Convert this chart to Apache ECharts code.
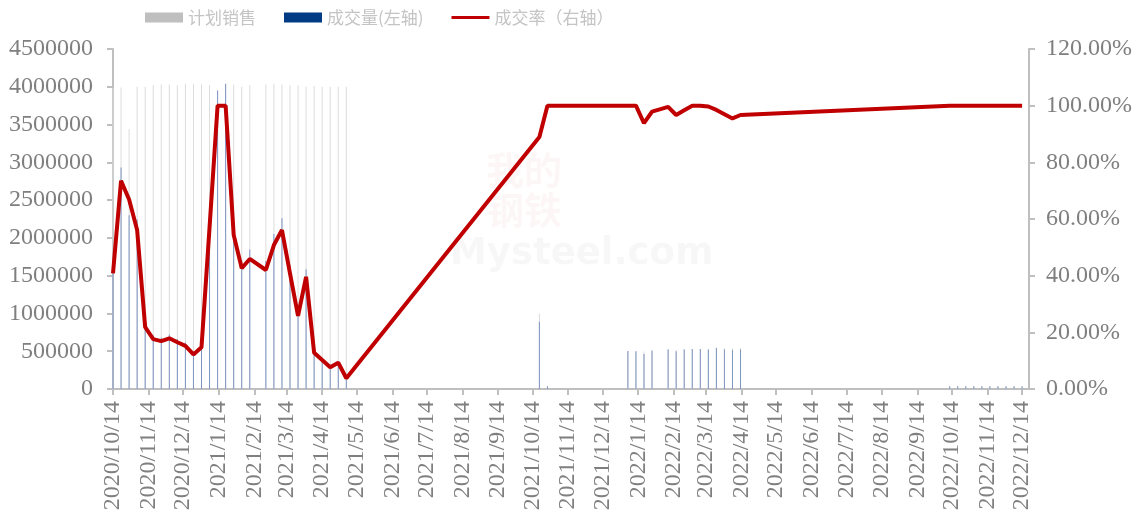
<!DOCTYPE html>
<html><head><meta charset="utf-8">
<script src="https://cdn.jsdelivr.net/npm/echarts@6/dist/echarts.min.js"></script>
<style>html,body{margin:0;padding:0;background:#fff}#c{width:1140px;height:516px}</style>
</head><body><div id="c"></div>
<script>
// weekly observation dates
const dates = [
 '2020-10-14','2020-10-21','2020-10-28','2020-11-04','2020-11-11','2020-11-18','2020-11-25',
 '2020-12-02','2020-12-09','2020-12-16','2020-12-23','2020-12-30','2021-01-06','2021-01-13',
 '2021-01-20','2021-01-27','2021-02-03','2021-02-10','2021-02-24','2021-03-03','2021-03-10',
 '2021-03-17','2021-03-24','2021-03-31','2021-04-07','2021-04-14','2021-04-21','2021-04-28','2021-05-05',
 '2021-10-20','2021-10-27',
 '2022-01-05','2022-01-12','2022-01-19','2022-01-26','2022-02-09','2022-02-16','2022-02-23',
 '2022-03-02','2022-03-09','2022-03-16','2022-03-23','2022-03-30','2022-04-06','2022-04-13',
 '2022-10-12','2022-10-19','2022-10-26','2022-11-02','2022-11-09','2022-11-16','2022-11-23',
 '2022-11-30','2022-12-07','2022-12-14'
];
// 计划销售
const planned = [
 3980000,3990000,3440000,4000000,4000000,4020000,4030000,
 4030000,4020000,4040000,4040000,4030000,4020000,3950000,
 4040000,4030000,4000000,4020000,4030000,4040000,4030000,
 4020000,4020000,4000000,4010000,4000000,4000000,4000000,4000000,
 1000000,35000,
 503000,500000,495000,516000,525000,515000,530000,
 530000,530000,525000,552000,540000,540000,540000,
 35000,35000,35000,35000,35000,35000,35000,
 35000,35000,35000
];
// 成交量(左轴)
const volume = [
 1624000,2933000,2301000,2244000,872000,707500,681000,
 721400,663300,614100,492900,592400,2291000,3950000,
 4040000,2192300,1704000,1845200,1692600,2052300,2260800,
 1640200,1037200,1584000,513300,408000,308000,372000,152000,
 890000,35000,
 503000,500000,464000,505000,523000,498000,521500,
 530000,530000,523400,543700,523800,515700,522200,
 35000,35000,35000,35000,35000,35000,35000,
 35000,35000,35000
];
// 成交率（右轴）
const rate = [
 0.408,0.735,0.669,0.561,0.218,0.176,0.169,
 0.179,0.165,0.152,0.122,0.147,0.570,1.000,
 1.000,0.544,0.426,0.459,0.420,0.508,0.561,
 0.408,0.258,0.396,0.128,0.102,0.077,0.093,0.038,
 0.889,1.000,
 1.000,1.000,0.938,0.979,0.996,0.967,0.984,
 1.000,1.000,0.997,0.985,0.970,0.955,0.967,
 1.000,1.000,1.000,1.000,1.000,1.000,1.000,
 1.000,1.000,1.000
];
// x-axis tick labels
const tickLabels = [
 '2020/10/14','2020/11/14','2020/12/14','2021/1/14','2021/2/14','2021/3/14','2021/4/14',
 '2021/5/14','2021/6/14','2021/7/14','2021/8/14','2021/9/14','2021/10/14','2021/11/14',
 '2021/12/14','2022/1/14','2022/2/14','2022/3/14','2022/4/14','2022/5/14','2022/6/14',
 '2022/7/14','2022/8/14','2022/9/14','2022/10/14','2022/11/14','2022/12/14'
];
const seriesNames = ['计划销售','成交量(左轴)','成交率（右轴）'];

function ts(s){ const p = s.split(/[-\/]/).map(Number); return new Date(p[0], p[1]-1, p[2]).getTime(); }
const tickTs = tickLabels.map(ts);
const fmt = v => { const d = new Date(v); return d.getFullYear()+'/'+(d.getMonth()+1)+'/'+d.getDate(); };

const axisColor = '#bfbfbf';
const labelColor = '#7f7f7f';
const serif = '"Liberation Serif","Times New Roman",serif';

const chart = echarts.init(document.getElementById('c'), null, {renderer:'canvas'});
chart.setOption({
  animation:false,
  backgroundColor:'#ffffff',
  grid:{left:113,right:111,top:49,bottom:127,containLabel:false},
  legend:{
    top:9,left:145,padding:0,itemWidth:38,itemHeight:10,itemGap:28,itemTextGap:6,
    textStyle:{fontSize:17,color:'#c4c4c4',fontFamily:'"Noto Sans CJK SC",sans-serif'},
    data:[
      {name:seriesNames[0],icon:'rect',itemStyle:{color:'#bfbfbf'}},
      {name:seriesNames[1],icon:'rect',itemStyle:{color:'#003b84'}},
      {name:seriesNames[2],icon:'path://M0,0L40,0L40,3.2L0,3.2Z',itemStyle:{color:'#c00000'}}
    ]
  },
  graphic:[
    {type:'text',left:450,top:236,z:0,silent:true,style:{text:'Mysteel.com',fontSize:37,fontWeight:'bold',fontFamily:'"DejaVu Sans",sans-serif',fill:'rgba(0,0,0,0.03)'}},
    {type:'text',left:486,top:150,z:0,silent:true,style:{text:'我的\n钢铁',fontSize:38,lineHeight:40,fontWeight:'bold',fontFamily:'"Noto Sans CJK SC",sans-serif',fill:'rgba(192,0,0,0.035)'}}
  ],
  xAxis:{
    type:'value',
    min:ts('2020-10-14'),max:ts('2022-12-20'),
    axisLine:{lineStyle:{color:axisColor,width:2}},
    axisTick:{show:true,customValues:tickTs,length:6,lineStyle:{color:axisColor,width:2}},
    axisLabel:{customValues:tickTs,rotate:90,margin:12,formatter:fmt,fontSize:24,color:labelColor,fontFamily:serif},
    splitLine:{show:false}
  },
  yAxis:[
    {type:'value',min:0,max:4500000,interval:500000,
     axisLine:{show:true,lineStyle:{color:axisColor,width:2}},
     axisTick:{show:true,length:6,lineStyle:{color:axisColor,width:2}},
     axisLabel:{margin:20,fontSize:24,color:labelColor,fontFamily:serif,formatter:v=>String(v)},
     splitLine:{show:false}},
    {type:'value',min:0,max:1.2,interval:0.2,position:'right',
     axisLine:{show:true,lineStyle:{color:axisColor,width:2}},
     axisTick:{show:true,length:6,lineStyle:{color:axisColor,width:2}},
     axisLabel:{margin:17,fontSize:24,color:labelColor,fontFamily:serif,formatter:v=>(v*100).toFixed(2)+'%'},
     splitLine:{show:false}}
  ],
  series:[
    {name:seriesNames[0],type:'bar',yAxisIndex:0,barWidth:1,barGap:'-100%',
     itemStyle:{color:'#dcdcdc'},data:dates.map((d,i)=>[ts(d),planned[i]])},
    {name:seriesNames[1],type:'bar',yAxisIndex:0,barWidth:1,barGap:'-100%',
     itemStyle:{color:'#7d94c2'},data:dates.map((d,i)=>[ts(d),volume[i]])},
    {name:seriesNames[2],type:'line',yAxisIndex:1,symbol:'none',z:5,
     lineStyle:{color:'#c00000',width:4},itemStyle:{color:'#c00000'},
     data:dates.map((d,i)=>[ts(d),rate[i]])}
  ]
});
</script>
</body></html>
